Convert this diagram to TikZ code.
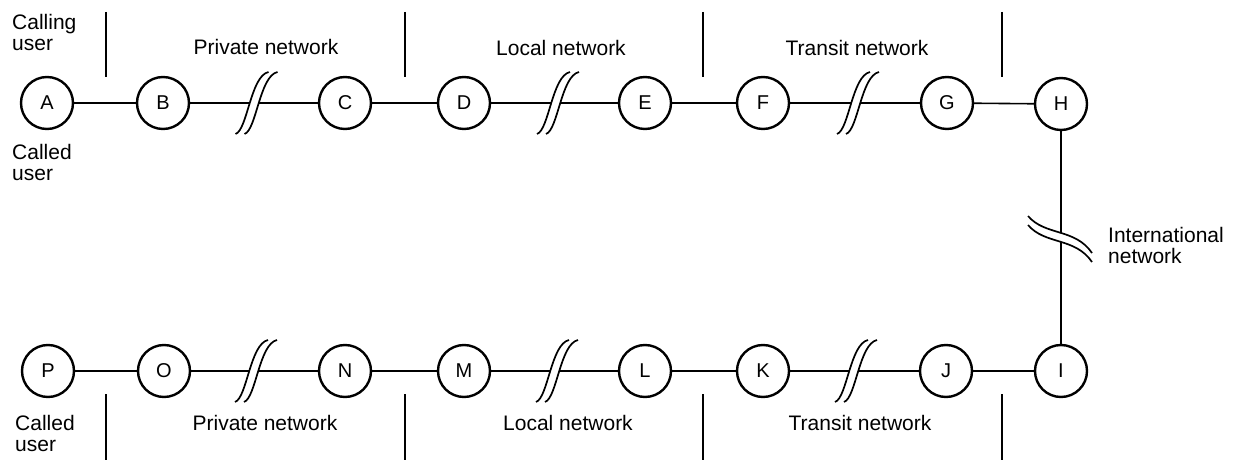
\documentclass[tikz,border=0pt]{standalone}
\usepackage{fontspec}
\setmainfont{Liberation Sans}
\begin{document}
\begin{tikzpicture}[x=1pt,y=-1pt,
  stn/.style={circle,draw,line width=2.4pt,minimum size=52pt,inner sep=0pt,font=\fontsize{20}{20}\selectfont},
  link/.style={line width=1.6pt},
  bar/.style={line width=1.7pt},
  lbl/.style={inner sep=0pt,font=\fontsize{21}{21}\selectfont},
  brk/.style={line width=1.7pt},
  hbrk/.pic={
    \fill[white] (-19,31) .. controls (-7,27) and (-4,-27) .. (14,-31)
      -- (23,-31) .. controls (5,-27) and (2,27) .. (-10,31) -- cycle;
    \draw[brk] (-19,31) .. controls (-7,27) and (-4,-27) .. (14,-31);
    \draw[brk] (-10,31) .. controls (2,27) and (5,-27) .. (23,-31);
  }
]
\useasboundingbox (0,0) rectangle (1242,462);

% stations, top row
\node[stn] (A) at (47,103) {A};
\node[stn] (B) at (163,103) {B};
\node[stn] (C) at (345,103) {C};
\node[stn] (D) at (464,103) {D};
\node[stn] (E) at (645,103) {E};
\node[stn] (F) at (763,103) {F};
\node[stn] (G) at (947,103) {G};
\node[stn] (H) at (1061,104) {H};
% stations, bottom row
\node[stn] (P) at (48,371) {P};
\node[stn] (O) at (164,371) {O};
\node[stn] (N) at (345,371) {N};
\node[stn] (M) at (464,371) {M};
\node[stn] (L) at (645,371) {L};
\node[stn] (K) at (763,371) {K};
\node[stn] (J) at (946,371) {J};
\node[stn] (I) at (1061,371) {I};

% connectors
\draw[link] (A) -- (B);
\draw[link] (B) -- (C);
\draw[link] (C) -- (D);
\draw[link] (D) -- (E);
\draw[link] (E) -- (F);
\draw[link] (F) -- (G);
\draw[link] (G) -- (H);
\draw[link] (H) -- (I);
\draw[link] (I) -- (J);
\draw[link] (J) -- (K);
\draw[link] (K) -- (L);
\draw[link] (L) -- (M);
\draw[link] (M) -- (N);
\draw[link] (N) -- (O);
\draw[link] (O) -- (P);

% break marks
\pic at (254.5,103) {hbrk};
\pic at (556,103) {hbrk};
\pic at (856,103) {hbrk};
\pic at (254,371) {hbrk};
\pic at (555,371) {hbrk};
\pic at (854,371) {hbrk};
\fill[white] (1028,216) .. controls (1045,236) and (1075,228) .. (1092,253)
  -- (1092,262) .. controls (1075,237) and (1045,245) .. (1028,225) -- cycle;
\draw[brk] (1028,216) .. controls (1045,236) and (1075,228) .. (1092,253);
\draw[brk] (1028,225) .. controls (1045,245) and (1075,237) .. (1092,262);

% separator bars
\foreach \x in {106,405,703,1002} {
  \draw[bar] (\x,12) -- (\x,77);
  \draw[bar] (\x,394) -- (\x,460);
}

% labels
\node[lbl,anchor=north west,align=left] (calling) at (12,14) {Calling\\user};
\node[lbl,anchor=north west,align=left] (calledtop) at (12,144) {Called\\user};
\node[lbl,anchor=north west,align=left] (calledbot) at (15,415) {Called\\user};
\node[lbl,anchor=base] (priv1) at (266,55) {Private network};
\node[lbl,anchor=base] (loc1) at (561,56) {Local network};
\node[lbl,anchor=base] (tran1) at (857,56) {Transit network};
\node[lbl,anchor=base] (priv2) at (265,430) {Private network};
\node[lbl,anchor=base] (loc2) at (568,430) {Local network};
\node[lbl,anchor=base] (tran2) at (860,430) {Transit network};
\node[lbl,anchor=north west,align=left] (intl) at (1108,227) {International\\network};
\end{tikzpicture}
\end{document}
